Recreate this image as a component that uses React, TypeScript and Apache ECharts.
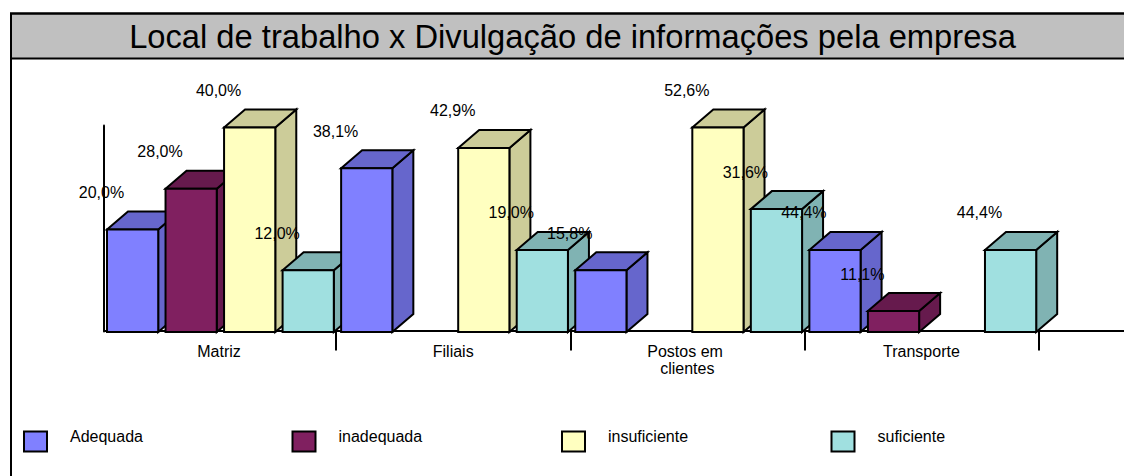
import React, { useEffect, useRef } from "react";
import * as echarts from "echarts";

const titleText = "Local de trabalho x Divulgação de informações pela empresa";
const categories = ["Matriz", "Filiais", "Postos em clientes", "Transporte"];
const seriesNames = ["Adequada", "inadequada", "insuficiente", "suficiente"];

// bar heights as drawn in the picture
const adequadaValues = [5, 8, 3, 4];
const inadequadaValues = [7, 0, 0, 1];
const insuficienteValues = [10, 9, 10, 0];
const suficienteValues = [3, 4, 6, 4];

// percentages printed above the bars
const adequadaLabels = [20.0, 38.1, 15.8, 44.4];
const inadequadaLabels = [28.0, 0, 0, 11.1];
const insuficienteLabels = [40.0, 42.9, 52.6, 0];
const suficienteLabels = [12.0, 19.0, 31.6, 44.4];

const frontColors = ["#8080FF", "#802060", "#FFFFC0", "#A0E0E0"];
const shadeColors = ["#6666CC", "#661A4D", "#CCCC99", "#80B3B3"];
const legendLefts = [23, 291.5, 561, 830.5];

const allValues = [adequadaValues, inadequadaValues, insuficienteValues, suficienteValues];
const allLabels = [adequadaLabels, inadequadaLabels, insuficienteLabels, suficienteLabels];

const FONT = '"Liberation Sans", Arial, sans-serif';
const DX = 21;
const DY = 18;

function barLeft(api: any, cat: number, s: number) {
  const band = api.size([1, 0])[0];
  const cx = api.coord([cat, 0])[0];
  const step = band / 4;
  return { left: cx - band / 2 + 5 + s * step, width: step * 0.875 };
}

function fmt(v: number) {
  return v.toFixed(1).replace(".", ",") + "%";
}

export default function App() {
  const ref = useRef<HTMLDivElement>(null);
  useEffect(() => {
    const chart = echarts.init(ref.current!, null, { renderer: "svg" });
    const barSeries = seriesNames.map((name, s) => ({
      type: "custom",
      name,
      coordinateSystem: "cartesian2d",
      clip: false,
      z: 3,
      itemStyle: { color: frontColors[s] },
      encode: { x: 0, y: 1 },
      data: allValues[s].map((v, c) => [c, v]),
      renderItem: (_p: any, api: any) => {
        const cat = api.value(0);
        const val = api.value(1);
        if (!val) return null;
        const { left, width } = barLeft(api, cat, s);
        const top = api.coord([cat, val])[1];
        const base = api.coord([cat, 0])[1] + 0.5;
        const right = left + width;
        const stroke = { stroke: "#000", lineWidth: 2, lineJoin: "miter" };
        const order = (cat * 4 + s) * 3;
        return {
          type: "group",
          children: [
            {
              type: "polygon",
              z2: order,
              shape: { points: [[right, base], [right + DX, base - DY], [right + DX, top - DY], [right, top]] },
              style: { fill: shadeColors[s], ...stroke },
            },
            {
              type: "polygon",
              z2: order + 1,
              shape: { points: [[left, top], [left + DX, top - DY], [right + DX, top - DY], [right, top]] },
              style: { fill: shadeColors[s], ...stroke },
            },
            {
              type: "rect",
              z2: order + 2,
              shape: { x: left, y: top, width, height: base - top },
              style: { fill: frontColors[s], ...stroke },
            },
          ],
        };
      },
    }));
    const labelData: any[] = [];
    allLabels.forEach((arr, s) =>
      arr.forEach((pct, c) => {
        if (pct) labelData.push([c, allValues[s][c], s, pct]);
      })
    );
    const labelSeries = {
      type: "custom",
      name: "rotulos",
      coordinateSystem: "cartesian2d",
      clip: false,
      silent: true,
      z: 10,
      encode: { x: 0, y: 1 },
      data: labelData,
      renderItem: (_p: any, api: any) => {
        const cat = api.value(0);
        const { left } = barLeft(api, cat, api.value(2));
        const top = api.coord([cat, api.value(1)])[1];
        return {
          type: "text",
          x: left - 5.5,
          y: top - 37,
          style: {
            text: fmt(api.value(3)),
            fill: "#000",
            font: `16px ${FONT}`,
            textAlign: "center",
            textVerticalAlign: "middle",
          },
        };
      },
    };
    chart.setOption({
      animation: false,
      backgroundColor: "#fff",
      title: {
        text: titleText,
        left: 567.5,
        top: 15,
        textAlign: "center",
        textStyle: { fontFamily: FONT, fontSize: 32.7, fontWeight: "normal", color: "#000" },
      },
      grid: { left: 102, width: 936.5, top: 125.5, height: 206 },
      legend: seriesNames.map((name, s) => ({
        left: legendLefts[s],
        top: 428,
        padding: 0,
        itemWidth: 23,
        itemHeight: 20,
        selectedMode: false,
        formatter: "{a|{name}}",
        data: [
          {
            name,
            icon: "rect",
            itemStyle: { color: frontColors[s], borderColor: "#000", borderWidth: 2 },
          },
        ],
        textStyle: {
          fontFamily: FONT,
          fontSize: 16,
          color: "#000",
          rich: {
            a: { fontFamily: FONT, fontSize: 16, color: "#000", padding: [0, 0, 11, 18] },
          },
        },
      })),
      xAxis: {
        type: "category",
        data: categories,
        axisLine: { show: false },
        axisTick: {
          show: true,
          length: 19,
          interval: (i: number) => i > 0,
          lineStyle: { color: "#000", width: 2 },
        },
        axisLabel: {
          margin: 11,
          interval: 0,
          fontFamily: FONT,
          fontSize: 16,
          color: "#000",
          lineHeight: 17,
          width: 90,
          overflow: "break",
        },
      },
      yAxis: {
        type: "value",
        min: 0,
        max: 10.1,
        offset: -2,
        splitLine: { show: false },
        axisTick: { show: false },
        axisLabel: { show: false },
        axisLine: { show: true, lineStyle: { color: "#000", width: 2 } },
      },
      graphic: [
        {
          type: "rect",
          z: 0,
          shape: { x: 11, y: 13.5, width: 1125, height: 45 },
          style: { fill: "#C0C0C0", stroke: "#000", lineWidth: 2 },
        },
        {
          type: "rect",
          z: 0,
          shape: { x: 11, y: 13.5, width: 1125, height: 480 },
          style: { fill: "none", stroke: "#000", lineWidth: 2 },
        },
        {
          type: "line",
          z: 1,
          shape: { x1: 104, y1: 331, x2: 1124, y2: 331 },
          style: { stroke: "#000", lineWidth: 2 },
        },
      ],
      series: [...barSeries, labelSeries],
    });
    return () => chart.dispose();
  }, []);
  return (
    <div
      ref={ref}
      style={{ position: "absolute", left: 0, top: 0, width: 1124, height: 476 }}
    />
  );
}
